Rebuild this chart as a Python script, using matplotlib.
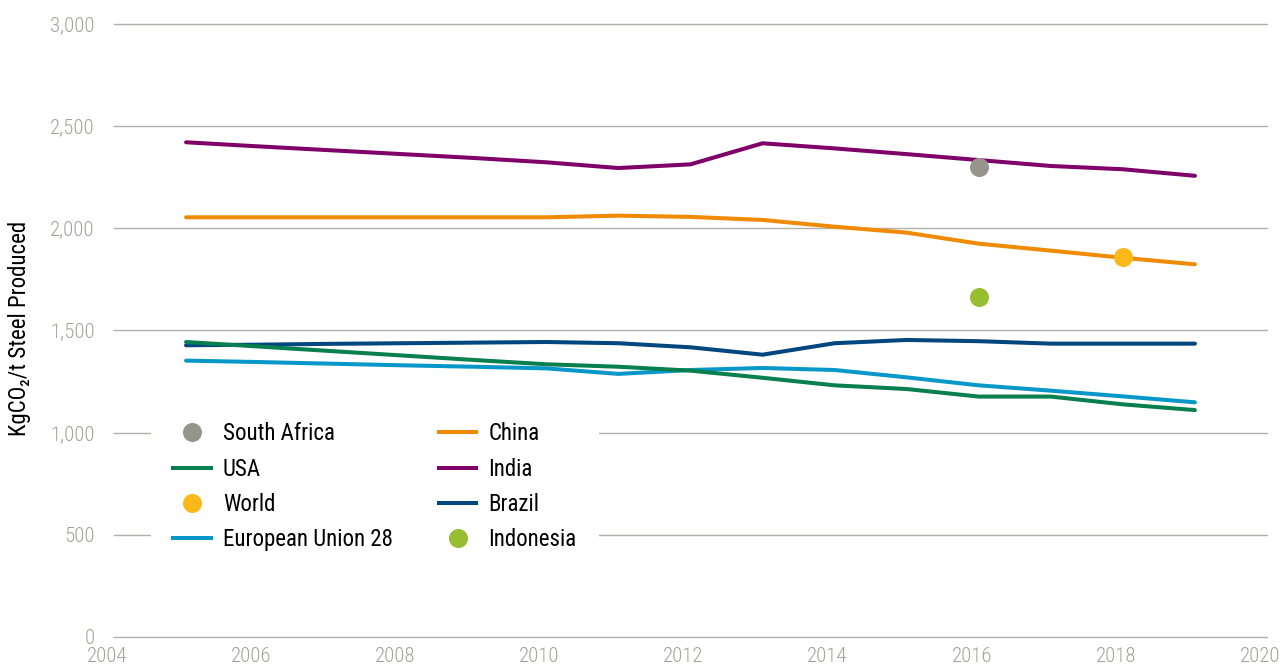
import matplotlib as mpl
mpl.use('Agg')
import matplotlib.pyplot as plt
from matplotlib.transforms import ScaledTranslation
from matplotlib.lines import Line2D

plt.rcParams['font.family'] = ['Roboto Condensed', 'Liberation Sans Narrow', 'Roboto', 'DejaVu Sans']

years = list(range(2005, 2020))

# kg CO2 per tonne of steel, read year by year
china = [2053, 2053, 2053, 2053, 2053, 2053, 2061, 2055, 2040,
         2007, 1978, 1924, 1890, 1855, 1823]
india = [2420, 2400, 2381, 2362, 2343, 2322, 2294, 2312, 2415,
         2390, 2362, 2333, 2304, 2288, 2256]
brazil = [1427, 1430, 1434, 1437, 1440, 1443, 1437, 1417, 1381,
          1437, 1453, 1447, 1435, 1435, 1435]
usa = [1443, 1421, 1399, 1377, 1355, 1334, 1322, 1303, 1268,
       1231, 1213, 1176, 1176, 1138, 1110]
eu28 = [1352, 1345, 1337, 1329, 1322, 1314, 1287, 1306, 1316,
        1306, 1270, 1231, 1205, 1177, 1148]

# single-year values
south_africa = (2016, 2300)
world = (2018, 1858)
indonesia = (2016, 1664)

c_sa = '#96958c'
c_usa = '#077f4e'
c_world = '#fbb919'
c_eu = '#0897c9'
c_china = '#f08a00'
c_india = '#7f0068'
c_brazil = '#00467f'
c_indo = '#97bd33'
c_grid = '#b2b0a8'
c_tick = '#a3a199'

fig = plt.figure(figsize=(12.87, 6.67), dpi=100)
ax = fig.add_axes([114 / 1287, 30 / 667, (1267 - 114) / 1287, (637 - 23.7) / 667])

lw = 2.9
ax.plot(years, china, color=c_china, lw=lw, solid_capstyle='round', zorder=3)
ax.plot(years, india, color=c_india, lw=lw, solid_capstyle='round', zorder=3)
ax.plot(years, brazil, color=c_brazil, lw=lw, solid_capstyle='round', zorder=3)
ax.plot(years, eu28, color=c_eu, lw=lw, solid_capstyle='round', zorder=3)
ax.plot(years, usa, color=c_usa, lw=lw, solid_capstyle='round', zorder=3)

ms = 13.7
ax.plot(*south_africa, 'o', color=c_sa, ms=ms, mec='none', zorder=4)
ax.plot(*world, 'o', color=c_world, ms=ms, mec='none', zorder=4)
ax.plot(*indonesia, 'o', color=c_indo, ms=ms, mec='none', zorder=4)

yticks = list(range(0, 3001, 500))
ax.set_xlim(2004, 2020)
ax.set_ylim(0, 3000)
ax.set_xticks(range(2004, 2021, 2))
ax.set_yticks(yticks)
ax.set_yticklabels(['{:,}'.format(v) for v in yticks])
for v in yticks:
    ax.axhline(v, color=c_grid, lw=1.0, zorder=1, clip_on=False)
for s in ax.spines.values():
    s.set_visible(False)
ax.tick_params(axis='both', length=0, labelsize=15, labelcolor=c_tick)
ax.tick_params(axis='y', pad=14)
ax.tick_params(axis='x', pad=7)
for lab in ax.get_xticklabels() + ax.get_yticklabels():
    lab.set_fontweight('light')
shift = ScaledTranslation(-7 / 100, 0, fig.dpi_scale_trans)
for lab in ax.get_xticklabels():
    lab.set_transform(lab.get_transform() + shift)

fig.text(20 / 1287, (667 - 328) / 667, 'KgCO\u2082/t Steel Produced', rotation=90,
         ha='center', va='center', fontsize=16.5, color='black')

# legend is filled column by column
handles = [
    Line2D([], [], ls='none', marker='o', ms=ms, color=c_sa, mec='none'),
    Line2D([], [], color=c_usa, lw=lw),
    Line2D([], [], ls='none', marker='o', ms=ms, color=c_world, mec='none'),
    Line2D([], [], color=c_eu, lw=lw),
    Line2D([], [], color=c_china, lw=lw),
    Line2D([], [], color=c_india, lw=lw),
    Line2D([], [], color=c_brazil, lw=lw),
    Line2D([], [], ls='none', marker='o', ms=ms, color=c_indo, mec='none'),
]
labels = ['South Africa', 'USA', 'World', 'European Union 28',
          'China', 'India', 'Brazil', 'Indonesia']
leg = ax.legend(handles, labels, ncol=2, loc='upper left',
                bbox_to_anchor=(151 / 1287, (667 - 400) / 667),
                bbox_transform=fig.transFigure, fontsize=16.5,
                frameon=True, fancybox=False, framealpha=1,
                borderpad=0.97, handlelength=1.65, handletextpad=0.52,
                columnspacing=2.0, labelspacing=0.54, borderaxespad=0)
leg.get_frame().set_edgecolor('none')
leg.get_frame().set_facecolor('white')
leg.set_zorder(5)

fig.savefig('out.png', dpi=100)
